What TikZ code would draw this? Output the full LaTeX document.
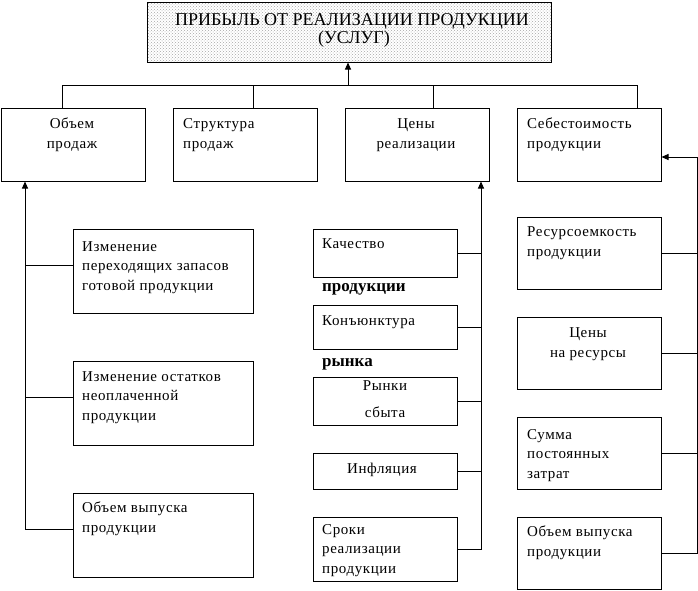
\documentclass[tikz,border=0pt]{standalone}
\usepackage{fontspec}
\setmainfont{Liberation Serif}[LetterSpace=4]
\newfontfamily\titlefont{Liberation Serif}
\usetikzlibrary{arrows.meta,patterns}
\begin{document}
\begin{tikzpicture}[x=1pt,y=-1pt,
  box/.style={draw,line width=1pt,inner sep=0pt,rectangle},
  txt/.style={inner sep=0pt,font=\fontsize{15}{19.5}\selectfont},
  btxt/.style={inner sep=0pt,font=\titlefont\fontsize{17}{19}\selectfont\bfseries},
  ttl/.style={inner sep=0pt,font=\titlefont\fontsize{18}{18}\selectfont},
  ln/.style={line width=1pt},
  arr/.style={line width=1pt,-{Triangle[width=6pt,length=7pt]}}]
\useasboundingbox (0,0) rectangle (698,590);
\newcommand\mybox[6][]{\node[box,#1,minimum width={#5-#3},minimum height={#6-#4}] (#2) at ({(#3+#5)/2},{(#4+#6)/2}) {};}
% boxes
\mybox[pattern=crosshatch dots,pattern color=gray!70]{top}{147}{2}{551}{62}
\mybox{ob}{1}{108}{145}{181}
\mybox{st}{173}{108}{317}{181}
\mybox{ce}{345}{108}{489}{181}
\mybox{se}{517}{108}{661}{181}
\mybox{L1}{73}{229}{253}{313}
\mybox{L2}{73}{361}{253}{445}
\mybox{L3}{73}{493}{253}{577}
\mybox{M1}{313}{229}{457}{277}
\mybox{M2}{313}{305}{457}{349}
\mybox{M3}{313}{377}{457}{425}
\mybox{M4}{313}{453}{457}{489}
\mybox{M5}{313}{517}{457}{581}
\mybox{R1}{517}{217}{661}{289}
\mybox{R2}{517}{317}{661}{389}
\mybox{R3}{517}{417}{661}{489}
\mybox{R4}{517}{517}{661}{589}
% texts (anchor base = baseline of the last line)
\node[ttl,anchor=base] (t1) at (352,25) {ПРИБЫЛЬ ОТ РЕАЛИЗАЦИИ ПРОДУКЦИИ};
\node[ttl,anchor=base] (t2) at (354,43) {(УСЛУГ)};
\node[txt,anchor=base,align=center] (tob) at (72,148) {Объем\\продаж};
\node[txt,anchor=base west,align=left] (tst) at (183,148) {Структура\\продаж};
\node[txt,anchor=base,align=center] (tce) at (416,148) {Цены\\реализации};
\node[txt,anchor=base west,align=left] (tse) at (527,148) {Себестоимость\\продукции};
\node[txt,anchor=base west,align=left] (tL1) at (82,290) {Изменение\\переходящих запасов\\готовой продукции};
\node[txt,anchor=base west,align=left] (tL2) at (82,420) {Изменение остатков\\неоплаченной\\продукции};
\node[txt,anchor=base west,align=left] (tL3) at (82,532) {Объем выпуска\\продукции};
\node[txt,anchor=base west] (tM1) at (322,248) {Качество};
\node[btxt,anchor=base west] (bM1) at (322,291) {продукции};
\node[txt,anchor=base west] (tM2) at (322,325) {Конъюнктура};
\node[btxt,anchor=base west] (bM2) at (322,366) {рынка};
\node[txt,anchor=base,align=center] (tM3) at (385,417) {Рынки\\[7pt]сбыта};
\node[txt,anchor=base] (tM4) at (382,473) {Инфляция};
\node[txt,anchor=base west,align=left] (tM5) at (322,573) {Сроки\\реализации\\продукции};
\node[txt,anchor=base west,align=left] (tR1) at (527,256) {Ресурсоемкость\\продукции};
\node[txt,anchor=base,align=center] (tR2) at (588,357) {Цены\\на ресурсы};
\node[txt,anchor=base west,align=left] (tR3) at (527,478) {Сумма\\постоянных\\затрат};
\node[txt,anchor=base west,align=left] (tR4) at (527,556) {Объем выпуска\\продукции};
% top bus
\coordinate (bA) at (62,85);
\coordinate (bB) at (253,85);
\coordinate (bC) at (348,85);
\coordinate (bD) at (433,85);
\coordinate (bE) at (637,85);
\draw[ln] (bA) -- (bE);
\draw[arr] (bC) -- (bC |- top.south);
\draw[ln] (bA) -- (bA |- ob.north);
\draw[ln] (bB) -- (bB |- st.north);
\draw[ln] (bD) -- (bD |- ce.north);
\draw[ln] (bE) -- (bE |- se.north);
% left column
\coordinate (lx) at (25,0);
\draw[arr] ([yshift=6pt]L3.west) -| (lx |- ob.south);
\draw[ln] ([yshift=6pt]L1.west) -- ([yshift=6pt]L1.west -| lx);
\draw[ln] ([yshift=6pt]L2.west) -- ([yshift=6pt]L2.west -| lx);
% middle column
\coordinate (mx) at (481,0);
\draw[arr] (M5.east) -| (mx |- ce.south);
\foreach \n in {M1,M2,M3,M4} \draw[ln] (\n.east) -- (\n.east -| mx);
% right column
\coordinate (rt) at (697,157);
\draw[arr] (R4.east) -| (rt) -- (rt -| se.east);
\foreach \n in {R1,R2,R3} \draw[ln] (\n.east) -- (\n.east -| rt);
\end{tikzpicture}
\end{document}
